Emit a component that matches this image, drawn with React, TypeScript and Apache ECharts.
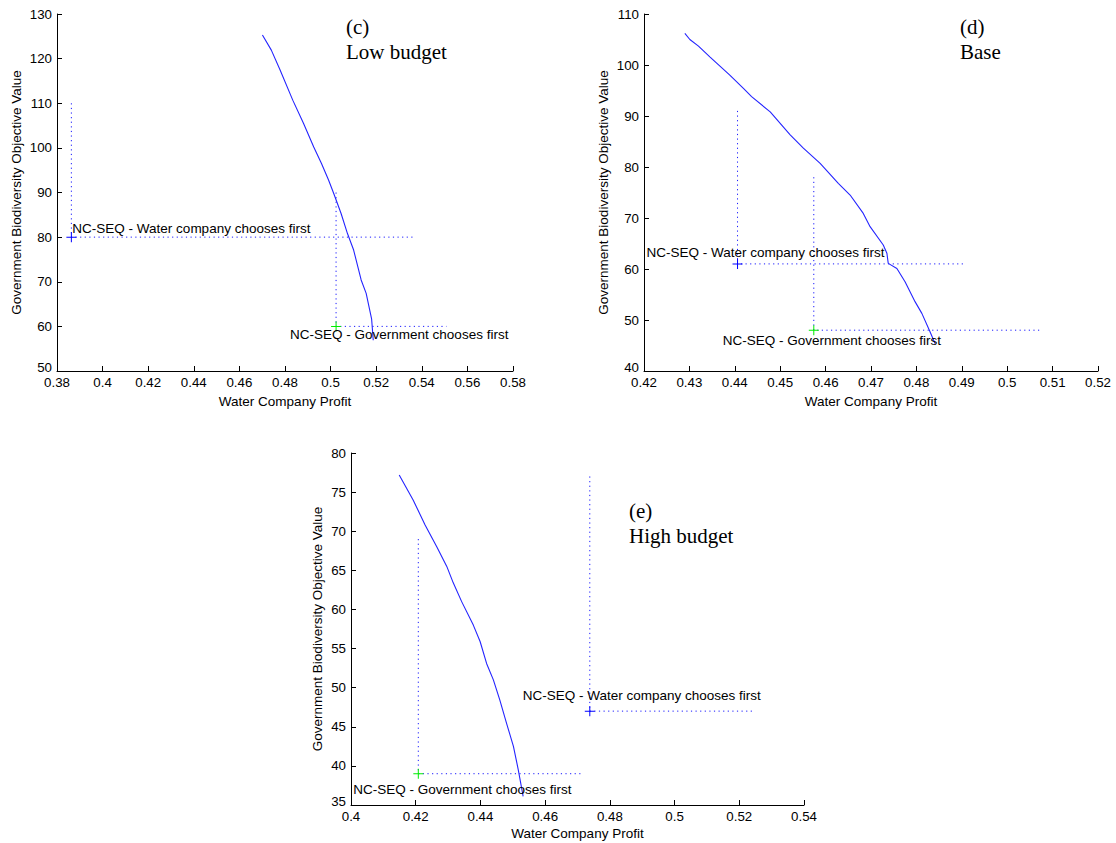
import React, { useEffect, useRef } from "react";
import * as echarts from "echarts";

// ---------- (c) Low budget ----------
const lowCurveX = [0.4701, 0.474, 0.4778, 0.4834, 0.4881, 0.4926, 0.496, 0.4991, 0.5015, 0.5046, 0.5074, 0.5101, 0.5134, 0.5156, 0.518, 0.5187];
const lowCurveY = [125.3, 121.9, 117.5, 110.7, 105.5, 100.2, 96.5, 92.8, 89.6, 85.3, 80.8, 77.1, 70.4, 67.4, 61.6, 56.9];
const lowWaterFirst = [0.3863, 80];
const lowGovFirst = [0.5024, 60];
const lowWaterGuide = [110, 0.5363]; // [top of vertical, end of horizontal]
const lowGovGuide = [90, 0.5508];

// ---------- (d) Base ----------
const baseCurveX = [0.429, 0.4301, 0.432, 0.4345, 0.4389, 0.4419, 0.4437, 0.4478, 0.4522, 0.4551, 0.4588, 0.4628, 0.4654, 0.4683, 0.4698, 0.4727, 0.4735, 0.4738, 0.4757, 0.4775, 0.4797, 0.4812, 0.483, 0.4841];
const baseCurveY = [106.2, 105.0, 103.7, 101.6, 98.0, 95.4, 93.8, 90.8, 86.3, 83.7, 80.7, 76.8, 74.5, 70.9, 68.3, 64.7, 63.1, 61.1, 60.1, 57.5, 53.6, 51.3, 47.7, 45.4];
const baseWaterFirst = [0.4406, 61];
const baseGovFirst = [0.4574, 48];
const baseWaterGuide = [91, 0.4903];
const baseGovGuide = [78, 0.5071];

// ---------- (e) High budget ----------
const highCurveX = [0.4149, 0.4192, 0.4229, 0.4265, 0.4296, 0.4316, 0.4342, 0.4378, 0.4399, 0.4419, 0.444, 0.446, 0.4481, 0.4502, 0.4517, 0.4532];
const highCurveY = [77.2, 74.0, 70.8, 68.0, 65.5, 63.4, 61.0, 58.0, 55.9, 53.1, 51.0, 48.4, 45.4, 42.5, 39.5, 36.1];
const highWaterFirst = [0.4738, 47];
const highGovFirst = [0.4208, 39];
const highWaterGuide = [77, 0.5243];
const highGovGuide = [69, 0.4713];

// ---------- axes [min, max, interval] ----------
const lowXAxis = [0.38, 0.58, 0.02];
const lowYAxis = [50, 130, 10];
const baseXAxis = [0.42, 0.52, 0.01];
const baseYAxis = [40, 110, 10];
const highXAxis = [0.4, 0.54, 0.02];
const highYAxis = [35, 80, 5];

const xTitle = "Water Company Profit";
const yTitle = "Government Biodiversity Objective Value";
const waterLabel = "NC-SEQ - Water company chooses first";
const govLabel = "NC-SEQ - Government chooses first";

const SANS = "'Liberation Sans', Arial, Helvetica, sans-serif";
const SERIF = "'Liberation Serif', 'Times New Roman', serif";
const PLUS = "path://M4.5,0H5.5V4.5H10V5.5H5.5V10H4.5V5.5H0V4.5H4.5Z";

type Panel = {
  grid: { left: number; top: number; width: number; height: number };
  xa: number[];
  ya: number[];
  yGap: number;
  xGap: number;
  cx: number[];
  cy: number[];
  water: number[];
  gov: number[];
  waterGuide: number[];
  govGuide: number[];
  waterOffset: number[];
  govOffset: number[];
};

const panels: Panel[] = [
  {
    grid: { left: 57, top: 14, width: 456, height: 357 },
    xa: lowXAxis, ya: lowYAxis, yGap: 34, xGap: 23,
    cx: lowCurveX, cy: lowCurveY,
    water: lowWaterFirst, gov: lowGovFirst,
    waterGuide: lowWaterGuide, govGuide: lowGovGuide,
    waterOffset: [1, -9], govOffset: [-46, 8],
  },
  {
    grid: { left: 644, top: 14, width: 454, height: 357 },
    xa: baseXAxis, ya: baseYAxis, yGap: 34, xGap: 23,
    cx: baseCurveX, cy: baseCurveY,
    water: baseWaterFirst, gov: baseGovFirst,
    waterGuide: baseWaterGuide, govGuide: baseGovGuide,
    waterOffset: [-91, -11], govOffset: [-91, 10],
  },
  {
    grid: { left: 351, top: 453, width: 453, height: 352 },
    xa: highXAxis, ya: highYAxis, yGap: 27, xGap: 21,
    cx: highCurveX, cy: highCurveY,
    water: highWaterFirst, gov: highGovFirst,
    waterGuide: highWaterGuide, govGuide: highGovGuide,
    waterOffset: [-67, -16], govOffset: [-65, 16],
  },
];

function buildOption() {
  const grid: any[] = [];
  const xAxis: any[] = [];
  const yAxis: any[] = [];
  const series: any[] = [];
  const axisCommon = {
    nameLocation: "middle",
    nameTextStyle: { fontFamily: SANS, fontSize: 13.5, color: "#000" },
    axisLine: { show: true, onZero: false, lineStyle: { color: "#000", width: 1 } },
    axisTick: { show: true, inside: true, length: 5, lineStyle: { color: "#000", width: 1 } },
    splitLine: { show: false },
  };
  panels.forEach((p, i) => {
    grid.push({ ...p.grid, containLabel: false });
    xAxis.push({
      ...axisCommon,
      type: "value",
      gridIndex: i,
      min: p.xa[0],
      max: p.xa[1],
      interval: p.xa[2],
      name: xTitle,
      nameGap: p.xGap,
      axisLabel: { margin: 5, fontFamily: SANS, fontSize: 13.3, color: "#000" },
    });
    const yMin = p.ya[0];
    yAxis.push({
      ...axisCommon,
      type: "value",
      gridIndex: i,
      min: p.ya[0],
      max: p.ya[1],
      interval: p.ya[2],
      name: yTitle,
      nameGap: p.yGap,
      axisLabel: {
        margin: 5,
        fontFamily: SANS,
        fontSize: 13.3,
        color: "#000",
        formatter: (v: number) => (Math.abs(v - yMin) < 1e-9 ? `{lo|${v}}` : `${v}`),
        rich: { lo: { fontFamily: SANS, fontSize: 13.3, color: "#000", padding: [0, 0, 8, 0] } },
      },
    });
    series.push({
      type: "line",
      xAxisIndex: i,
      yAxisIndex: i,
      data: p.cx.map((x, k) => [x, p.cy[k]]),
      symbol: "none",
      silent: true,
      lineStyle: { color: "#2424ff", width: 1.1 },
      z: 3,
    });
    const guide = (pt: number[], g: number[]) => ({
      type: "line",
      xAxisIndex: i,
      yAxisIndex: i,
      data: [
        [pt[0], g[0]],
        [pt[0], pt[1]],
        [g[1], pt[1]],
      ],
      symbol: "none",
      silent: true,
      lineStyle: { color: "#1a1aff", width: 1, type: [1.2, 3.4] },
      z: 2,
    });
    series.push(guide(p.water, p.waterGuide));
    series.push(guide(p.gov, p.govGuide));
    const marker = (pt: number[], color: string, text: string, off: number[]) => ({
      type: "scatter",
      xAxisIndex: i,
      yAxisIndex: i,
      data: [pt],
      symbol: PLUS,
      symbolSize: 10,
      silent: true,
      itemStyle: { color, opacity: 1 },
      label: {
        show: true,
        position: "inside",
        align: "left",
        verticalAlign: "middle",
        offset: off,
        formatter: text,
        fontFamily: SANS,
        fontSize: 13.5,
        color: "#000",
      },
      z: 4,
    });
    series.push(marker(p.water, "#0000ff", waterLabel, p.waterOffset));
    series.push(marker(p.gov, "#00ee00", govLabel, p.govOffset));
  });

  const graphic = [
    { type: "text", left: 346, top: 14, style: { text: "(c)\nLow budget", font: `21px ${SERIF}`, lineHeight: 25, fill: "#000" } },
    { type: "text", left: 960, top: 14, style: { text: "(d)\nBase", font: `21px ${SERIF}`, lineHeight: 25, fill: "#000" } },
    { type: "text", left: 629, top: 498, style: { text: "(e)\nHigh budget", font: `21px ${SERIF}`, lineHeight: 25, fill: "#000" } },
  ];

  return {
    animation: false,
    backgroundColor: "#fff",
    grid,
    xAxis,
    yAxis,
    series,
    graphic,
  };
}

export default function App() {
  const ref = useRef<HTMLDivElement>(null);
  useEffect(() => {
    if (!ref.current) return;
    const chart = echarts.init(ref.current, undefined, { renderer: "svg" });
    chart.setOption(buildOption() as any);
    return () => chart.dispose();
  }, []);
  return (
    <div
      ref={ref}
      style={{ position: "absolute", left: 0, top: 0, width: 1116, height: 843, background: "#fff" }}
    />
  );
}
